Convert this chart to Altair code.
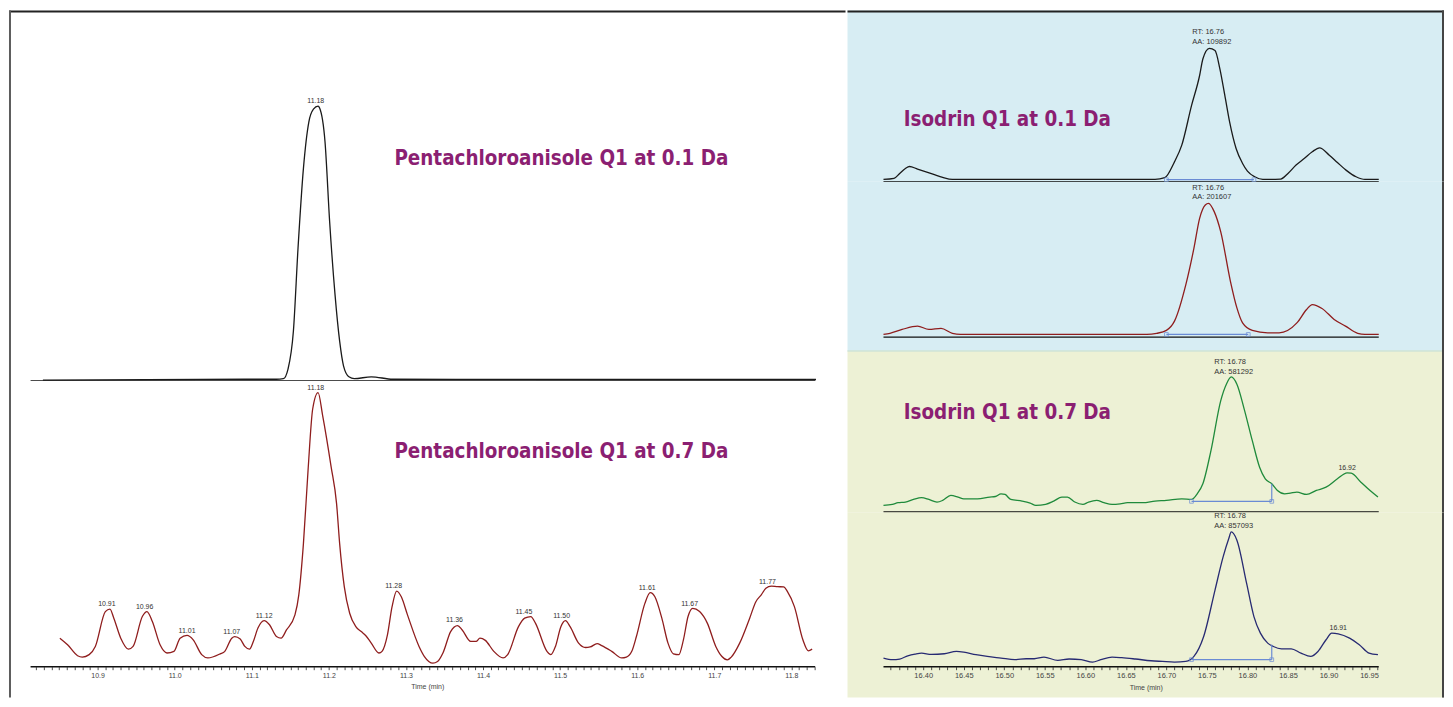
import altair as alt
import pandas as pd

FONT = "Liberation Sans, Arial, sans-serif"
TFONT = "'DejaVu Sans Condensed', 'Liberation Sans Narrow', sans-serif"
PURPLE = "#8b1f72"
BLUE_BG = "#d7edf3"
YEL_BG = "#edf1d5"
INTEG = "#6a8bd4"

# ---------------- Pentachloroanisole Q1 at 0.1 Da (black) ----------------
pca01_time = [10.829, 11.093, 11.132, 11.141, 11.147, 11.154, 11.160, 11.167, 11.174, 11.180,
              11.186, 11.188, 11.195, 11.201, 11.208, 11.214, 11.219, 11.226, 11.233, 11.255,
              11.283, 11.832]
pca01_int = [0.3, 0.6, 0.6, 0.8, 4.3, 18.2, 48.5, 77.6, 94.5, 99.2,
             100.3, 99.6, 87.3, 58.2, 31.5, 14.5, 5.5, 1.5, 0.8, 1.5,
             0.6, 0.5]
pca01_peak_time = [11.183]
pca01_peak_int = [102.1]
pca01_peak_label = ["11.18"]

# ---------------- Pentachloroanisole Q1 at 0.7 Da (red) ----------------
pca07_time = [10.851, 10.861, 10.874, 10.880, 10.889, 10.897, 10.910, 10.916, 10.921, 10.930,
              10.940, 10.946, 10.958, 10.964, 10.971, 10.981, 10.990, 10.999, 11.007, 11.016,
              11.024, 11.035, 11.043, 11.059, 11.065, 11.074, 11.078, 11.085, 11.091, 11.097,
              11.102, 11.108, 11.116, 11.123, 11.132, 11.138, 11.145, 11.156, 11.161, 11.167,
              11.173, 11.179, 11.186, 11.192, 11.203, 11.210, 11.214, 11.220, 11.227, 11.235,
              11.242, 11.248, 11.255, 11.265, 11.269, 11.276, 11.282, 11.288, 11.294, 11.302,
              11.317, 11.324, 11.335, 11.341, 11.348, 11.358, 11.367, 11.373, 11.384, 11.391,
              11.396, 11.403, 11.414, 11.426, 11.432, 11.446, 11.454, 11.462, 11.468, 11.483,
              11.488, 11.494, 11.501, 11.507, 11.513, 11.524, 11.533, 11.539, 11.548, 11.554,
              11.567, 11.580, 11.586, 11.593, 11.599, 11.610, 11.617, 11.623, 11.632, 11.640,
              11.647, 11.654, 11.660, 11.666, 11.672, 11.681, 11.691, 11.702, 11.710, 11.717,
              11.722, 11.733, 11.746, 11.754, 11.761, 11.767, 11.774, 11.782, 11.790, 11.795,
              11.804, 11.815, 11.822, 11.827]
pca07_int = [10.4, 8.0, 4.0, 3.5, 4.4, 7.4, 20.1, 21.0, 17.7, 10.4,
             6.4, 7.4, 18.3, 20.1, 16.5, 8.0, 5.0, 5.6, 10.4, 11.4,
             9.8, 4.4, 3.2, 4.7, 5.6, 10.4, 11.0, 10.1, 7.4, 6.4,
             9.2, 14.1, 16.8, 15.3, 11.0, 10.4, 13.4, 18.9, 26.2, 44.9,
             71.6, 94.0, 100.0, 91.5, 72.8, 59.5, 44.9, 29.2, 19.5, 14.6,
             12.8, 11.3, 8.6, 5.0, 5.6, 11.6, 21.9, 27.6, 25.5, 18.9,
             7.4, 3.7, 1.3, 1.9, 5.0, 12.8, 15.0, 13.4, 9.2, 9.2,
             10.4, 9.6, 5.6, 3.2, 4.4, 14.6, 17.7, 18.3, 15.9, 5.6,
             4.4, 7.4, 14.6, 16.8, 14.6, 8.6, 7.0, 7.2, 8.4, 7.7,
             5.6, 3.2, 3.5, 5.6, 11.0, 23.1, 27.0, 25.5, 17.7, 8.6,
             4.7, 4.4, 9.8, 18.3, 21.3, 20.1, 15.9, 7.4, 3.7, 2.5,
             3.5, 8.6, 17.7, 23.7, 26.2, 28.6, 29.4, 29.2, 29.1, 27.4,
             21.9, 9.8, 5.8, 6.4]
pca07_peak_time = [10.912, 10.961, 11.016, 11.074, 11.116, 11.183, 11.284, 11.363, 11.453,
                   11.502, 11.613, 11.668, 11.769]
pca07_peak_int = [22.9, 21.9, 13.1, 12.7, 18.5, 101.8, 29.4, 17.0, 19.9, 18.6, 28.6, 23.0, 31.0]
pca07_peak_label = ["10.91", "10.96", "11.01", "11.07", "11.12", "11.18", "11.28", "11.36",
                    "11.45", "11.50", "11.61", "11.67", "11.77"]

# ---------------- Isodrin Q1 at 0.1 Da ----------------
iso01a_time = [16.351, 16.364, 16.371, 16.378, 16.383, 16.393, 16.412, 16.424, 16.436, 16.686,
               16.698, 16.710, 16.719, 16.731, 16.741, 16.745, 16.753, 16.760, 16.766, 16.772,
               16.778, 16.786, 16.794, 16.800, 16.809, 16.819, 16.841, 16.850, 16.860, 16.870,
               16.880, 16.889, 16.901, 16.911, 16.922, 16.934, 16.945, 16.962]
iso01a_int = [1.7, 2.5, 6.2, 9.9, 11.4, 9.5, 5.7, 3.2, 1.7, 1.7,
              3.0, 14.9, 27.4, 57.0, 79.6, 92.0, 100.0, 98.3, 84.6, 65.0,
              44.8, 24.9, 13.7, 8.0, 3.7, 1.7, 2.0, 6.2, 12.5, 17.4,
              22.5, 25.4, 19.9, 14.4, 8.5, 3.7, 1.7, 1.7]
iso01b_time = [16.351, 16.359, 16.374, 16.393, 16.407, 16.422, 16.436, 16.446, 16.676, 16.688,
               16.700, 16.710, 16.724, 16.734, 16.741, 16.748, 16.752, 16.759, 16.767, 16.779,
               16.787, 16.794, 16.806, 16.825, 16.839, 16.861, 16.873, 16.880, 16.892, 16.907,
               16.921, 16.936, 16.945, 16.962]
iso01b_int = [2.0, 2.8, 5.7, 8.2, 5.7, 6.5, 2.8, 2.0, 2.0, 2.8,
              5.0, 11.9, 39.2, 66.5, 88.8, 98.8, 100.0, 93.8, 78.9, 41.7,
              21.8, 10.6, 5.0, 3.2, 3.2, 10.6, 20.6, 24.3, 21.4, 13.2,
              8.2, 2.8, 2.0, 2.0]

# ---------------- Isodrin Q1 at 0.7 Da ----------------
iso07a_time = [16.351, 16.362, 16.369, 16.378, 16.388, 16.398, 16.407, 16.417, 16.424, 16.434,
               16.443, 16.450, 16.467, 16.482, 16.489, 16.496, 16.501, 16.508, 16.522, 16.532,
               16.539, 16.551, 16.561, 16.571, 16.578, 16.587, 16.597, 16.604, 16.614, 16.623,
               16.633, 16.643, 16.652, 16.671, 16.686, 16.700, 16.719, 16.731, 16.738, 16.745,
               16.755, 16.767, 16.774, 16.780, 16.787, 16.796, 16.806, 16.815, 16.822, 16.830,
               16.837, 16.846, 16.853, 16.861, 16.873, 16.885, 16.897, 16.911, 16.923, 16.928,
               16.940, 16.952, 16.961]
iso07a_int = [4.9, 5.7, 6.9, 7.4, 9.3, 10.6, 9.3, 7.4, 8.6, 12.3,
              11.1, 9.8, 9.8, 11.1, 11.5, 13.5, 13.0, 9.3, 8.1, 6.6,
              4.9, 5.7, 8.1, 11.1, 11.1, 7.4, 5.7, 7.4, 8.6, 6.9,
              5.7, 6.1, 6.9, 6.9, 8.1, 8.6, 9.8, 9.3, 13.5, 20.9,
              45.5, 82.3, 94.6, 100.0, 94.6, 76.2, 52.8, 33.2, 24.6, 20.9,
              16.0, 13.5, 14.0, 14.7, 13.0, 16.0, 18.4, 24.6, 29.0, 28.8,
              22.1, 15.5, 11.1]
iso07b_time = [16.351, 16.362, 16.371, 16.381, 16.390, 16.398, 16.410, 16.426, 16.441, 16.450,
               16.465, 16.479, 16.496, 16.513, 16.527, 16.537, 16.549, 16.566, 16.580, 16.595,
               16.609, 16.619, 16.633, 16.645, 16.662, 16.681, 16.695, 16.710, 16.724, 16.734,
               16.746, 16.760, 16.770, 16.777, 16.780, 16.787, 16.799, 16.808, 16.816, 16.825,
               16.832, 16.842, 16.854, 16.866, 16.878, 16.887, 16.897, 16.904, 16.912, 16.926,
               16.938, 16.950, 16.961]
iso07b_int = [6.4, 5.2, 5.7, 8.1, 9.4, 10.1, 9.1, 9.6, 11.3, 10.8,
              8.9, 7.6, 6.4, 5.2, 5.9, 5.9, 7.1, 4.7, 5.7, 5.2,
              3.4, 5.2, 7.1, 6.7, 5.7, 4.4, 3.9, 3.4, 3.9, 7.6,
              22.4, 56.9, 81.5, 95.1, 100.0, 93.9, 61.8, 37.2, 24.9, 17.5,
              15.0, 13.3, 13.3, 10.1, 7.6, 11.3, 20.0, 24.9, 24.4, 21.2,
              16.3, 10.1, 8.9]

# annotations (RT / AA labels)
iso01a_note = ["RT: 16.76", "AA: 109892"]
iso01b_note = ["RT: 16.76", "AA: 201607"]
iso07a_note = ["RT: 16.78", "AA: 581292"]
iso07b_note = ["RT: 16.78", "AA: 857093"]
iso01_note_time = [16.732, 16.732]
iso07_note_time = [16.759, 16.759]
iso01a_note_int = [111.9, 104.5]
iso01b_note_int = [111.7, 104.5]
iso07a_note_int = [111.1, 103.9]
iso07b_note_int = [111.6, 104.2]
iso07a_peak_label, iso07a_peak_time, iso07a_peak_int = ["16.92"], [16.923], [32.7]
iso07b_peak_label, iso07b_peak_time, iso07b_peak_int = ["16.91"], [16.912], [28.6]

# integration baselines: start, end, level, (top of drop line)
iso01a_integ = [16.700, 16.808, 1.5, None]
iso01b_integ = [16.700, 16.801, 2.0, None]
iso07a_integ = [16.731, 16.830, 7.9, 20.9]
iso07b_integ = [16.731, 16.830, 5.2, 16.3]

titles = ["Pentachloroanisole Q1 at 0.1 Da", "Pentachloroanisole Q1 at 0.7 Da",
          "Isodrin Q1 at 0.1 Da", "Isodrin Q1 at 0.7 Da"]

left_ticks = [round(10.82 + 0.01 * i, 2) for i in range(102)]
right_ticks = [round(16.36 + 0.01 * i, 2) for i in range(61)]

LEFT_X = [10.7850, 11.8703]
RIGHT_X = [16.3066, 17.0425]
LEFT_LINE = [10.813, 11.831]
RIGHT_LINE = [16.351, 16.962]

DUMMY = pd.DataFrame({"k": [0]})


def make_axis(values, expr, size):
    return alt.Axis(values=values, labelExpr=expr, domain=False, grid=False, ticks=True,
                    tickSize=3, tickColor="#222", tickWidth=0.8, labelFontSize=size,
                    labelColor="#444", labelFont=FONT, labelPadding=2, labelOverlap=False,
                    labelFlush=False, labelBound=False, title="Time (min)", titleFontSize=7,
                    titleFont=FONT, titleFontWeight="normal", titleColor="#444",
                    titlePadding=4, offset=-31)


def panel(w, h, xdom, ydom, fill, t, v, color, line, xaxis=None, peaks=None, notes=None,
          title=None, integ=None, frame=()):
    xs = alt.Scale(domain=xdom, nice=False, zero=False)
    ys = alt.Scale(domain=ydom, nice=False, zero=False)

    def ex(f):
        return alt.X(f + ":Q", scale=xs, axis=xaxis)

    def ey(f):
        return alt.Y(f + ":Q", scale=ys, axis=None)

    layers = []
    al = pd.DataFrame({"a": [line[0]], "b": [line[1]], "y": [0.0]})
    layers.append(alt.Chart(al).mark_rule(color="#111", strokeWidth=1.4)
                  .encode(x=ex("a"), x2=alt.X2("b"), y=ey("y")))
    tr = pd.DataFrame({"t": t, "v": v})
    layers.append(alt.Chart(tr).mark_line(color=color, strokeWidth=1.3, interpolate="monotone")
                  .encode(x=ex("t"), y=ey("v")))
    if integ is not None:
        t0, t1, lev, top = integ
        idf = pd.DataFrame({"a": [t0], "b": [t1], "y": [lev]})
        layers.append(alt.Chart(idf).mark_rule(color=INTEG, strokeWidth=1.2)
                      .encode(x=ex("a"), x2=alt.X2("b"), y=ey("y")))
        if top is not None:
            vdf = pd.DataFrame({"a": [t1], "y": [lev], "y2": [top]})
            layers.append(alt.Chart(vdf).mark_rule(color=INTEG, strokeWidth=1.2)
                          .encode(x=ex("a"), y=ey("y"), y2=alt.Y2("y2")))
        mdf = pd.DataFrame({"a": [t0, t1], "y": [lev, lev]})
        layers.append(alt.Chart(mdf).mark_point(shape="square", filled=False, size=14,
                                                 strokeWidth=1, color=INTEG)
                      .encode(x=ex("a"), y=ey("y")))
    if peaks is not None:
        pdf = pd.DataFrame({"t": peaks[0], "v": peaks[1], "s": peaks[2]})
        layers.append(alt.Chart(pdf).mark_text(fontSize=7, font=FONT, color="#333",
                                               align="center", baseline="middle")
                      .encode(x=ex("t"), y=ey("v"), text="s:N"))
    if notes is not None:
        ndf = pd.DataFrame({"t": notes[0], "v": notes[1], "s": notes[2]})
        layers.append(alt.Chart(ndf).mark_text(fontSize=7.5, font=FONT, color="#333",
                                               align="left", baseline="middle")
                      .encode(x=ex("t"), y=ey("v"), text="s:N"))
    if title is not None:
        tdf = pd.DataFrame({"t": [title[0]], "v": [title[1]], "s": [title[2]]})
        layers.append(alt.Chart(tdf).mark_text(fontSize=20.5, font=TFONT, fontWeight="bold",
                                               color=PURPLE, align="left",
                                               baseline="alphabetic")
                      .encode(x=ex("t"), y=ey("v"), text="s:N"))
    for f in frame:
        if f == "top":
            layers.append(alt.Chart(DUMMY).mark_rule(color="#222", strokeWidth=2)
                          .encode(x=alt.value(0), x2=alt.value(w), y=alt.value(1)))
        elif f == "left":
            layers.append(alt.Chart(DUMMY).mark_rule(color="#5c5c5c", strokeWidth=2)
                          .encode(x=alt.value(1), y=alt.value(0), y2=alt.value(h)))
        elif f == "right":
            layers.append(alt.Chart(DUMMY).mark_rule(color="#444", strokeWidth=2)
                          .encode(x=alt.value(w - 1), y=alt.value(0), y2=alt.value(h)))
        elif f == "seam":
            layers.append(alt.Chart(DUMMY).mark_rule(color="#cfe3d6", strokeWidth=1.5)
                          .encode(x=alt.value(0), x2=alt.value(w - 2), y=alt.value(0)))
    return alt.layer(*layers).properties(
        width=w, height=h, view=alt.ViewBackground(fill=fill, stroke=None))


left_axis = make_axis(left_ticks,
                      "abs(datum.value*10 - round(datum.value*10)) < 0.001 ? format(datum.value, '.1f') : ''",
                      7)
right_axis = make_axis(right_ticks,
                       "abs(datum.value*20 - round(datum.value*20)) < 0.001 ? format(datum.value, '.2f') : ''",
                       7.5)

L1 = panel(840, 372, LEFT_X, [0, 135.27], "white", pca01_time, pca01_int, "#1a1a1a", LEFT_LINE,
           peaks=(pca01_peak_time, pca01_peak_int, pca01_peak_label),
           title=(11.285, 79.0, titles[0]), frame=("top", "left"))
L2 = panel(840, 318, LEFT_X, [-11.26, 104.25], "white", pca07_time, pca07_int, "#8f1d1d", LEFT_LINE,
           xaxis=left_axis,
           peaks=(pca07_peak_time, pca07_peak_int, pca07_peak_label),
           title=(11.285, 76.2, titles[1]), frame=("left",))

R1 = panel(599, 172, RIGHT_X, [0, 128.36], BLUE_BG, iso01a_time, iso01a_int, "#1a1a1a", RIGHT_LINE,
           notes=(iso01_note_time, iso01a_note_int, iso01a_note),
           title=(16.376, 41.6, titles[2]), integ=iso01a_integ, frame=("top", "right"))
R2 = panel(599, 170, RIGHT_X, [-10.42, 116.16], BLUE_BG, iso01b_time, iso01b_int, "#8f1d1d",
           RIGHT_LINE, notes=(iso01_note_time, iso01b_note_int, iso01b_note),
           integ=iso01b_integ, frame=("right",))
R3 = panel(599, 162, RIGHT_X, [-0.22, 119.16], YEL_BG, iso07a_time, iso07a_int, "#1f8a3b",
           RIGHT_LINE, notes=(iso07_note_time, iso07a_note_int, iso07a_note),
           peaks=(iso07a_peak_time, iso07a_peak_int, iso07a_peak_label),
           title=(16.376, 68.8, titles[3]), integ=iso07a_integ, frame=("seam", "right"))
R4 = panel(599, 186, RIGHT_X, [-22.91, 114.56], YEL_BG, iso07b_time, iso07b_int, "#272a72",
           RIGHT_LINE, xaxis=right_axis,
           notes=(iso07_note_time, iso07b_note_int, iso07b_note),
           peaks=(iso07b_peak_time, iso07b_peak_int, iso07b_peak_label),
           integ=iso07b_integ, frame=("right",))

left = alt.vconcat(L1, L2, spacing=0, bounds="flush")
right = alt.vconcat(R1, R2, R3, R4, spacing=0, bounds="flush")
chart = (alt.hconcat(left, right, spacing=0)
         .properties(padding=0, background="white")
         .configure_view(stroke=None))

chart.save("out.html", embed_options={"renderer": "svg", "actions": False})
